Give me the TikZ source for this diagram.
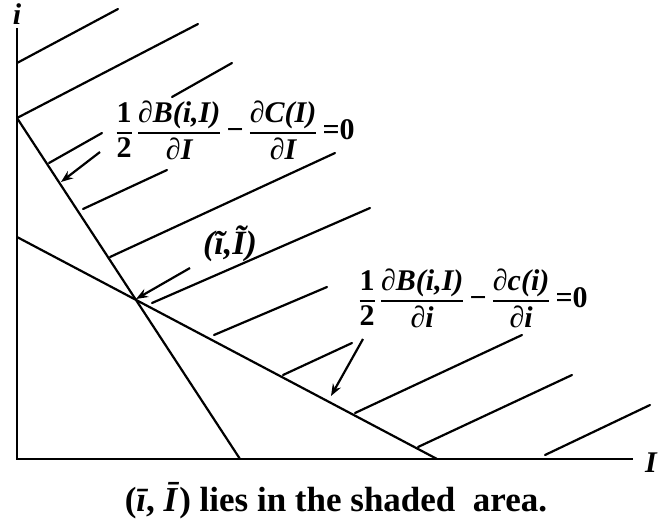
\documentclass[tikz,border=0pt]{standalone}
\usepackage{amsmath}
\usepackage{fontspec}
\setmainfont{Liberation Serif}
\usetikzlibrary{arrows.meta}
\newcommand\myfr[2]{\genfrac{}{}{1.3pt}{0}{\mbox{#1}}{\mbox{#2}}}
\begin{document}
\begin{tikzpicture}[x=1pt,y=-1pt,
  ln/.style={line width=2.2pt,line cap=round},
  axisline/.style={line width=2.4pt},
  lab/.style={font=\fontsize{30}{32}\selectfont\bfseries,inner sep=0pt},
  itlab/.style={font=\fontsize{30}{32}\selectfont\bfseries\itshape,inner sep=0pt},
  captext/.style={font=\fontsize{35}{37}\selectfont\bfseries,inner sep=0pt},
  arr/.style={line width=2.2pt,-{Stealth[length=12pt,width=9pt]}}]
\useasboundingbox (0,0) rectangle (658,519);
% axes
\coordinate (Ytop) at (17,28);
\coordinate (O) at (17,459);
\coordinate (Xend) at (633,459);
\draw[axisline] (Ytop) -- (O) -- (Xend);
\node[itlab] (ylab) at (17,14) {i};
\node[itlab,anchor=base east] (xlab) at (657,472) {I};
% boundary lines
\coordinate (A0) at (17,118);
\coordinate (A1) at (240,459);
\coordinate (B0) at (17,237);
\coordinate (B1) at (437,459);
\draw[ln] (A0) -- (A1);
\draw[ln] (B0) -- (B1);
% hatch lines
\foreach \a/\b in {{(17,63)}/{(118,9)},{(17,118)}/{(198,24)},{(172,97)}/{(232,63)},
  {(49,163)}/{(102,133)},{(83,209)}/{(167,170)},{(110,257)}/{(335,153)},
  {(152,303)}/{(370,208)},{(214,335)}/{(327,287)},{(283,375)}/{(352,343)},
  {(355,413)}/{(522,335)},{(418,447)}/{(572,375)},{(545,455)}/{(650,405)}}
  \draw[ln] \a -- \b;
% labels
\node[lab] (eq1) at (235,130) {$\displaystyle\myfr{1}{2}\,\myfr{\itshape ∂B(i,I)}{\itshape ∂I}\mbox{\,−\,}\myfr{\itshape ∂C(I)}{\itshape ∂I}\mbox{\,=0}$};
\node[lab] (eq2) at (473,298) {$\displaystyle\myfr{1}{2}\,\myfr{\itshape ∂B(i,I)}{\itshape ∂i}\mbox{\,−\,}\myfr{\itshape ∂c(i)}{\itshape ∂i}\mbox{\,=0}$};
\node[itlab,font=\fontsize{34}{36}\selectfont\bfseries\itshape] (pt) at (230,244) {(ĩ,Ĩ)};
\node[captext,anchor=base] (caption) at (336,511) {(\textit{ī}, \textit{Ī}) lies in the shaded\ \ area.};
% arrows
\coordinate (s1) at (100,152);
\coordinate (t1) at (61,182);
\coordinate (s2) at (190,268);
\coordinate (X) at (136,299);
\coordinate (s3) at (363,339);
\coordinate (t3) at (331,396);
\draw[arr] (s1) -- (t1);
\draw[arr] (s2) -- (X);
\draw[arr] (s3) -- (t3);
\end{tikzpicture}
\end{document}
